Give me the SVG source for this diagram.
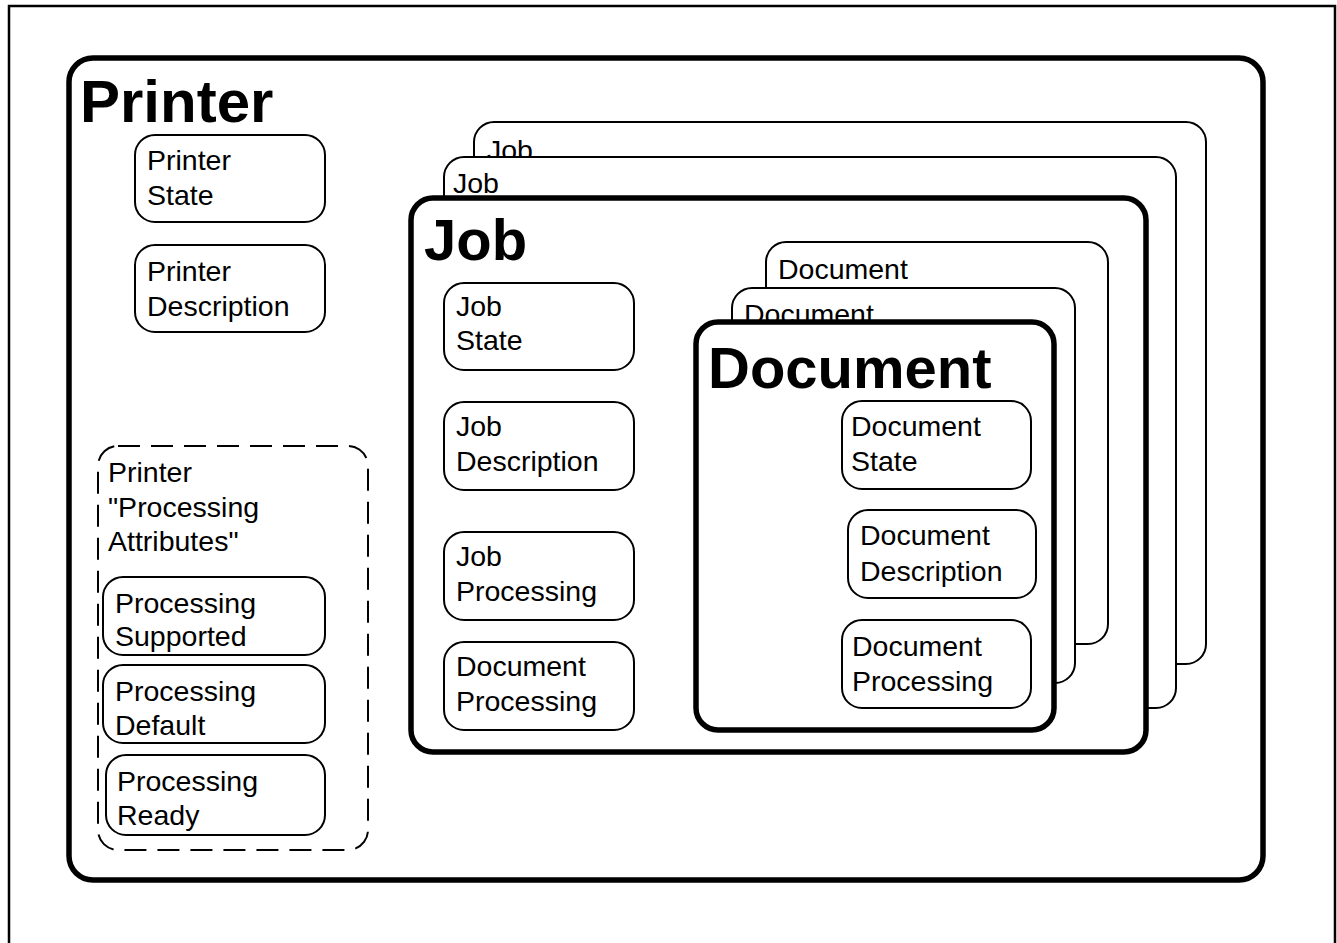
<svg xmlns="http://www.w3.org/2000/svg" width="1337" height="943" viewBox="0 0 1337 943">
<style>
  .t { font-family: "Liberation Sans", Arial, sans-serif; font-size: 28.5px; fill: #000; }
  .b { font-family: "Liberation Sans", Arial, sans-serif; font-size: 58px; font-weight: bold; fill: #000; }
  .bp { font-size: 60px; }
  .thin { fill: #fff; stroke: #000; stroke-width: 2; }
  .thick { fill: #fff; stroke: #000; stroke-width: 5.5; }
  .dash { fill: none; stroke: #000; stroke-width: 2; stroke-dasharray: 22 11; }
</style>
<rect x="0" y="0" width="1337" height="943" fill="#fff"/>
<path d="M9,950 V6 H1335 V950" fill="none" stroke="#000" stroke-width="2.5"/>

<g id="printer">
  <rect class="thick" x="69" y="58" width="1194" height="822" rx="24"/>
  <text class="b bp" x="80" y="122">Printer</text>
</g>

<g id="printer-state">
  <rect class="thin" x="135" y="135" width="190" height="87" rx="20"/>
  <text class="t" x="147" y="170">Printer</text>
  <text class="t" x="147" y="205">State</text>
</g>
<g id="printer-description">
  <rect class="thin" x="135" y="245" width="190" height="87" rx="20"/>
  <text class="t" x="147" y="281">Printer</text>
  <text class="t" x="147" y="316">Description</text>
</g>

<g id="processing-attributes">
  <rect class="dash" x="98" y="446" width="270" height="404" rx="20"/>
  <text class="t" x="108" y="482">Printer</text>
  <text class="t" x="108" y="517">"Processing</text>
  <text class="t" x="108" y="551">Attributes"</text>
</g>
<g id="processing-supported">
  <rect class="thin" x="103" y="577" width="222" height="78" rx="20"/>
  <text class="t" x="115" y="613">Processing</text>
  <text class="t" x="115" y="646">Supported</text>
</g>
<g id="processing-default">
  <rect class="thin" x="103" y="665" width="222" height="78" rx="20"/>
  <text class="t" x="115" y="701">Processing</text>
  <text class="t" x="115" y="735">Default</text>
</g>
<g id="processing-ready">
  <rect class="thin" x="106" y="755" width="219" height="80" rx="20"/>
  <text class="t" x="117" y="791">Processing</text>
  <text class="t" x="117" y="825">Ready</text>
</g>

<g id="job-back">
  <rect class="thin" x="474" y="122" width="732" height="542" rx="20"/>
  <text class="t" x="487" y="160">Job</text>
</g>
<g id="job-middle">
  <rect class="thin" x="444" y="157" width="732" height="551" rx="20"/>
  <text class="t" x="453" y="193">Job</text>
</g>
<g id="job">
  <rect class="thick" x="411" y="198" width="735" height="554" rx="22"/>
  <text class="b" x="424" y="260">Job</text>
</g>
<g id="job-state">
  <rect class="thin" x="444" y="283" width="190" height="87" rx="20"/>
  <text class="t" x="456" y="316">Job</text>
  <text class="t" x="456" y="350">State</text>
</g>
<g id="job-description">
  <rect class="thin" x="444" y="402" width="190" height="88" rx="20"/>
  <text class="t" x="456" y="436">Job</text>
  <text class="t" x="456" y="471">Description</text>
</g>
<g id="job-processing">
  <rect class="thin" x="444" y="532" width="190" height="88" rx="20"/>
  <text class="t" x="456" y="566">Job</text>
  <text class="t" x="456" y="601">Processing</text>
</g>
<g id="job-document-processing">
  <rect class="thin" x="444" y="642" width="190" height="88" rx="20"/>
  <text class="t" x="456" y="676">Document</text>
  <text class="t" x="456" y="711">Processing</text>
</g>

<g id="document-back">
  <rect class="thin" x="766" y="242" width="342" height="402" rx="20"/>
  <text class="t" x="778" y="279">Document</text>
</g>
<g id="document-middle">
  <rect class="thin" x="732" y="288" width="343" height="395" rx="20"/>
  <text class="t" x="744" y="324">Document</text>
</g>
<g id="document">
  <rect class="thick" x="696" y="322" width="358" height="408" rx="22"/>
  <text class="b" x="708" y="388">Document</text>
</g>
<g id="document-state">
  <rect class="thin" x="842" y="401" width="189" height="88" rx="20"/>
  <text class="t" x="851" y="436">Document</text>
  <text class="t" x="851" y="471">State</text>
</g>
<g id="document-description">
  <rect class="thin" x="848" y="510" width="188" height="88" rx="20"/>
  <text class="t" x="860" y="545">Document</text>
  <text class="t" x="860" y="581">Description</text>
</g>
<g id="document-processing">
  <rect class="thin" x="842" y="620" width="189" height="88" rx="20"/>
  <text class="t" x="852" y="656">Document</text>
  <text class="t" x="852" y="691">Processing</text>
</g>

<g id="connectors"></g>
</svg>
